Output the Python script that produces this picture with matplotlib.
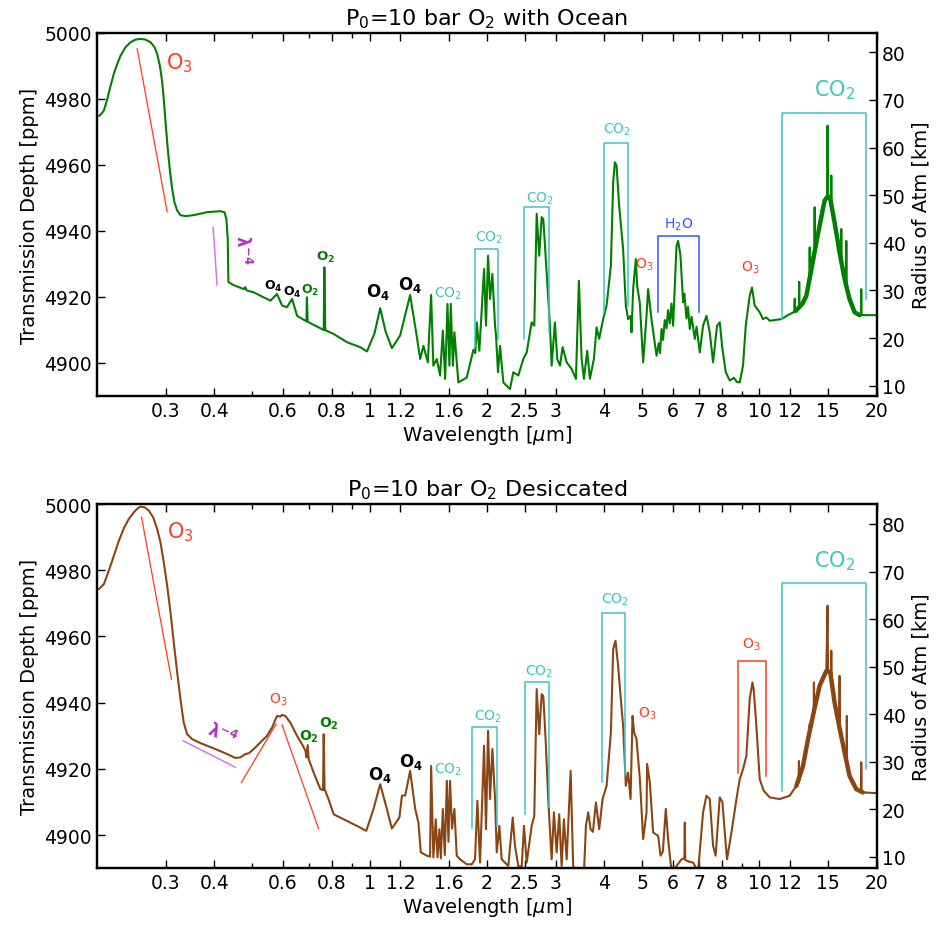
import numpy as np
import matplotlib
matplotlib.use('Agg')
import matplotlib.pyplot as plt
from matplotlib.ticker import FixedLocator, FixedFormatter, NullFormatter

plt.rcParams['font.family'] = 'DejaVu Sans'
plt.rcParams['mathtext.fontset'] = 'dejavusans'
plt.rcParams['xtick.direction'] = 'in'
plt.rcParams['ytick.direction'] = 'in'

# (wavelength [um], transit depth [ppm])
ocean_spec = [
    (0.2022, 4974.9), (0.2043, 4975.2), (0.2083, 4976.5), (0.2126, 4980.0), (0.2167, 4984.0),
    (0.2209, 4987.6), (0.2254, 4990.6), (0.2298, 4993.1), (0.2367, 4995.7), (0.2438, 4997.2),
    (0.2511, 4998.0), (0.2586, 4998.2), (0.2663, 4998.0), (0.2743, 4997.2), (0.2809, 4995.7),
    (0.2854, 4993.6), (0.2899, 4990.1), (0.2940, 4985.1), (0.2967, 4980.0), (0.3003, 4971.9),
    (0.3038, 4964.8), (0.3074, 4958.8), (0.3118, 4952.7), (0.3160, 4948.7), (0.3211, 4946.2),
    (0.3274, 4944.8), (0.3372, 4944.5), (0.3541, 4944.8), (0.3832, 4945.7), (0.4147, 4946.0),
    (0.4245, 4945.7), (0.4295, 4943.6), (0.4329, 4937.6), (0.4346, 4924.5), (0.448, 4923.6),
    (0.476, 4922.4), (0.480, 4923.0), (0.484, 4922.0), (0.505, 4921.4), (0.535, 4919.9),
    (0.557, 4918.9), (0.579, 4920.9), (0.597, 4917.4), (0.614, 4916.9), (0.633, 4919.4),
    (0.652, 4914.3), (0.684, 4912.8), (0.689, 4912.6), (0.691, 4919.9), (0.694, 4912.5),
    (0.755, 4910.3), (0.763, 4910.0), (0.766, 4929.0), (0.770, 4910.0), (0.775, 4909.8),
    (0.809, 4908.8), (0.875, 4906.3), (0.947, 4904.8), (0.985, 4903.5), (1.030, 4909.0),
    (1.065, 4916.6), (1.100, 4909.5), (1.141, 4904.5), (1.198, 4908.3), (1.227, 4913.3),
    (1.271, 4920.6), (1.317, 4909.3),
    (1.349, 4901.2), (1.375, 4905.2), (1.411, 4900.2), (1.439, 4920.6), (1.458, 4899.2),
    (1.488, 4901.2), (1.517, 4896.2), (1.542, 4909.8), (1.563, 4895.2), (1.585, 4917.9),
    (1.603, 4899.2), (1.616, 4917.9), (1.636, 4899.2), (1.651, 4909.3), (1.690, 4894.1),
    (1.776, 4895.6), (1.847, 4904.0), (1.868, 4903.0), (1.884, 4912.3), (1.913, 4903.7),
    (1.967, 4928.5), (1.990, 4911.3), (2.014, 4932.5), (2.038, 4919.4), (2.066, 4927.0),
    (2.099, 4911.3), (2.111, 4908.3), (2.136, 4897.2), (2.162, 4905.2), (2.204, 4894.1),
    (2.293, 4892.1), (2.338, 4897.2), (2.408, 4896.2), (2.480, 4901.2), (2.530, 4903.2),
    (2.606, 4912.3), (2.646, 4911.3), (2.684, 4945.2), (2.725, 4932.5), (2.764, 4944.2),
    (2.791, 4943.6), (2.847, 4927.5), (2.903, 4911.3), (2.932, 4899.2), (2.989, 4912.3),
    (3.031, 4901.2), (3.080, 4899.2), (3.129, 4904.8), (3.204, 4900.2), (3.299, 4898.2),
    (3.384, 4895.2), (3.444, 4924.9), (3.500, 4901.2), (3.548, 4895.2), (3.617, 4903.7),
    (3.675, 4895.2), (3.763, 4901.2), (3.823, 4910.8), (3.882, 4907.3), (3.975, 4913.3),
    (4.056, 4917.4), (4.160, 4929.5), (4.217, 4954.8), (4.259, 4960.8), (4.302, 4959.8),
    (4.368, 4947.7), (4.472, 4934.5), (4.544, 4917.4), (4.606, 4913.3), (4.673, 4914.3),
    (4.700, 4909.3), (4.745, 4922.4), (4.821, 4931.5), (4.859, 4923.4), (4.937, 4918.0),
    (5.033, 4900.2), (5.135, 4914.3), (5.183, 4922.4), (5.287, 4913.3), (5.447, 4902.2),
    (5.520, 4906.0), (5.560, 4903.0), (5.611, 4910.3), (5.660, 4907.0), (5.720, 4913.0),
    (5.779, 4910.5), (5.830, 4916.0), (5.892, 4912.0), (5.950, 4918.0), (6.008, 4911.3),
    (6.130, 4935.5), (6.188, 4937.0), (6.276, 4932.5), (6.373, 4918.4), (6.420, 4921.0),
    (6.501, 4913.5), (6.560, 4917.0), (6.630, 4910.3), (6.700, 4914.0), (6.828, 4907.3),
    (6.900, 4911.0), (7.032, 4903.2), (7.171, 4911.3), (7.316, 4914.3), (7.460, 4909.3),
    (7.607, 4900.2), (7.788, 4911.3), (7.913, 4912.3), (8.040, 4904.2), (8.199, 4897.2),
    (8.395, 4894.7), (8.600, 4895.5), (8.750, 4894.3), (8.904, 4894.1), (9.080, 4899.2),
    (9.226, 4911.3), (9.445, 4920.4), (9.573, 4922.9), (9.727, 4917.4), (10.02, 4915.4),
    (10.21, 4913.3), (10.42, 4913.8), (10.63, 4912.8), (11.38, 4913.3), (11.96, 4914.8),
    (12.30, 4915.5), (12.32, 4919.5), (12.34, 4915.6), (12.63, 4916.5), (12.65, 4924.6),
    (12.67, 4916.7), (13.20, 4920.4), (13.44, 4927.0), (13.46, 4935.0), (13.48, 4928.5),
    (13.84, 4934.5), (13.86, 4947.2), (13.88, 4935.8), (14.27, 4941.6), (14.70, 4949.2),
    (14.94, 4950.7), (14.96, 4971.9), (14.98, 4950.5), (15.20, 4949.7), (15.27, 4947.5),
    (15.29, 4956.8), (15.31, 4947.0), (15.59, 4942.6), (16.06, 4933.5), (16.20, 4931.5),
    (16.22, 4940.6), (16.24, 4931.0), (16.54, 4925.5), (16.69, 4923.5), (16.71, 4937.0),
    (16.73, 4923.0), (17.03, 4919.4), (17.54, 4915.4), (18.07, 4914.5), (18.23, 4914.5),
    (18.25, 4922.4), (18.27, 4914.5), (20.00, 4914.5),
]

# smooth envelope of the dense 15 um band (drawn heavier)
ocean_band = [
    (12.40, 4915.8), (12.90, 4918.0), (13.20, 4920.4), (13.60, 4928.5), (14.00, 4936.5),
    (14.27, 4941.6), (14.70, 4949.2), (15.00, 4950.6), (15.20, 4949.7), (15.59, 4942.6),
    (16.06, 4933.5), (16.54, 4925.5), (17.03, 4919.4), (17.54, 4915.4), (18.07, 4914.5),
]

dry_spec = [
    (0.2022, 4974.3), (0.2083, 4975.8), (0.2145, 4979.9), (0.2209, 4984.4), (0.2276, 4988.9),
    (0.2344, 4992.7), (0.2414, 4995.5), (0.2486, 4997.5), (0.2544, 4998.7), (0.2586, 4999.2),
    (0.2649, 4999.0), (0.2716, 4998.0), (0.2787, 4996.0), (0.2854, 4992.4), (0.2910, 4988.4),
    (0.2967, 4982.4), (0.3027, 4975.3), (0.3087, 4967.3), (0.3147, 4958.2), (0.3211, 4949.2),
    (0.3274, 4941.1), (0.3338, 4934.0), (0.3405, 4930.5), (0.3508, 4929.0), (0.3684, 4927.8),
    (0.3985, 4926.2), (0.4312, 4924.5), (0.4529, 4923.3), (0.4665, 4923.5), (0.4805, 4924.5),
    (0.4899, 4924.7), (0.5047, 4926.0), (0.5248, 4928.0), (0.5459, 4930.0), (0.5624, 4932.5),
    (0.5791, 4936.0), (0.5900, 4935.8), (0.5965, 4936.3), (0.6083, 4936.0), (0.6264, 4934.0),
    (0.6516, 4930.0), (0.6711, 4927.5), (0.685, 4925.5), (0.689, 4923.5), (0.694, 4927.2),
    (0.698, 4923.0), (0.719, 4918.9), (0.748, 4913.9), (0.760, 4913.6), (0.763, 4930.5),
    (0.767, 4913.6), (0.770, 4913.4), (0.785, 4910.9), (0.809, 4906.3), (0.875, 4904.3),
    (0.928, 4902.8), (0.981, 4901.3), (1.024, 4907.9), (1.065, 4915.4), (1.108, 4907.9),
    (1.141, 4902.0), (1.193, 4905.3), (1.211, 4911.9), (1.235, 4912.0), (1.271, 4919.4),
    (1.310, 4907.9), (1.335, 4903.8), (1.354, 4894.8), (1.403, 4893.8), (1.430, 4893.5),
    (1.439, 4920.9), (1.458, 4893.3), (1.479, 4904.8), (1.494, 4893.3), (1.511, 4901.8),
    (1.524, 4893.0), (1.542, 4907.9), (1.560, 4894.0), (1.579, 4916.4), (1.594, 4898.0),
    (1.609, 4916.4), (1.628, 4902.0), (1.651, 4907.9), (1.674, 4893.8), (1.707, 4892.7),
    (1.776, 4891.2), (1.829, 4891.2), (1.865, 4892.7), (1.891, 4910.4), (1.921, 4891.7),
    (1.967, 4927.0), (1.990, 4901.8), (2.014, 4931.5), (2.038, 4910.9), (2.066, 4926.0),
    (2.099, 4910.9), (2.120, 4894.8), (2.153, 4902.8), (2.183, 4892.7), (2.249, 4891.2),
    (2.270, 4890.7), (2.330, 4905.3), (2.361, 4896.8), (2.408, 4890.7), (2.457, 4890.5),
    (2.490, 4902.8), (2.530, 4891.7), (2.606, 4902.8), (2.646, 4905.8), (2.684, 4944.1),
    (2.725, 4930.5), (2.764, 4942.6), (2.791, 4942.0), (2.835, 4927.0), (2.873, 4910.9),
    (2.932, 4892.7), (2.972, 4906.9), (3.020, 4894.8), (3.066, 4906.3), (3.110, 4890.7),
    (3.152, 4904.8), (3.204, 4892.7), (3.280, 4919.4), (3.330, 4890.5), (3.398, 4889.0),
    (3.550, 4889.0), (3.590, 4902.8), (3.639, 4906.9), (3.691, 4901.8), (3.741, 4901.0),
    (3.808, 4909.9), (3.882, 4901.8), (3.961, 4910.9), (4.056, 4914.9), (4.160, 4931.0),
    (4.217, 4956.2), (4.276, 4958.7), (4.342, 4951.1), (4.404, 4942.1), (4.472, 4933.0),
    (4.544, 4914.9), (4.606, 4918.9), (4.673, 4910.9), (4.728, 4936.0), (4.772, 4931.0),
    (4.840, 4929.0), (4.937, 4916.9), (5.033, 4898.8), (5.135, 4906.9), (5.153, 4921.5),
    (5.236, 4915.9), (5.340, 4900.8), (5.500, 4899.8), (5.578, 4893.8), (5.654, 4895.0),
    (5.754, 4907.9), (5.833, 4898.8), (5.952, 4889.0), (6.130, 4890.7), (6.250, 4892.0),
    (6.313, 4892.7), (6.420, 4893.0), (6.438, 4903.8), (6.455, 4892.5), (6.600, 4892.0),
    (6.761, 4891.7), (6.961, 4889.0), (7.171, 4906.9), (7.316, 4911.9), (7.460, 4910.9),
    (7.607, 4896.8), (7.723, 4893.8), (7.913, 4911.4), (8.040, 4910.0), (8.150, 4900.8),
    (8.261, 4892.7), (8.479, 4900.8), (8.733, 4910.9), (8.904, 4916.9), (9.080, 4919.9),
    (9.262, 4924.0), (9.445, 4941.1), (9.596, 4946.1), (9.670, 4944.0), (9.824, 4933.0),
    (10.02, 4916.9), (10.26, 4913.4), (10.63, 4911.4), (11.27, 4910.9), (11.96, 4911.9),
    (12.44, 4914.9), (12.61, 4916.0), (12.63, 4922.4), (12.65, 4916.2), (12.94, 4920.9),
    (13.33, 4929.0), (13.44, 4931.0), (13.46, 4933.5), (13.48, 4931.5), (13.72, 4936.0),
    (13.78, 4937.0), (13.80, 4946.1), (13.82, 4937.5), (14.27, 4945.1), (14.85, 4949.6),
    (14.96, 4969.3), (15.00, 4949.5), (15.20, 4949.2), (15.27, 4947.0), (15.29, 4955.7),
    (15.31, 4946.5), (15.59, 4940.1), (16.04, 4932.5), (16.06, 4948.1), (16.08, 4932.0),
    (16.54, 4925.0), (16.74, 4922.5), (16.76, 4936.0), (16.78, 4922.0), (17.03, 4917.9),
    (17.72, 4913.9), (18.23, 4913.2), (18.25, 4922.0), (18.27, 4913.1), (18.42, 4912.9),
    (20.00, 4912.7),
]

dry_band = [
    (12.44, 4914.9), (12.94, 4920.9), (13.33, 4929.0), (13.72, 4936.0), (14.27, 4945.1),
    (14.85, 4949.6), (15.00, 4949.5), (15.20, 4949.2), (15.59, 4940.1), (16.06, 4932.3),
    (16.54, 4925.0), (17.03, 4917.9), (17.72, 4913.9), (18.42, 4912.9),
]

xtick_vals = [0.3, 0.4, 0.6, 0.8, 1, 1.2, 1.6, 2, 2.5, 3, 4, 5, 6, 7, 8, 10, 12, 15, 20]
xtick_text = ['0.3', '0.4', '0.6', '0.8', '1', '1.2', '1.6', '2', '2.5', '3',
              '4', '5', '6', '7', '8', '10', '12', '15', '20']
xtick_minor = [0.5, 0.7, 0.9, 9]

# band brackets: (left, right, top, left foot, right foot)
co2_ocean = [(1.868, 2.139, 4934.5, 4905.2, 4907.3),
             (2.495, 2.892, 4947.2, 4907.3, 4909.4),
             (4.000, 4.599, 4966.6, 4915.4, 4917.4),
             (11.45, 18.80, 4975.8, 4913.3, 4919.4)]
h2o_ocean = (5.50, 6.995, 4938.4, 4915.4, 4915.4)
co2_dry = [(1.829, 2.120, 4932.8, 4902.3, 4902.8),
           (2.505, 2.882, 4946.1, 4906.3, 4908.4),
           (3.937, 4.526, 4967.0, 4915.9, 4917.9),
           (11.45, 18.80, 4976.0, 4913.4, 4919.9)]
o3_dry = (8.815, 10.42, 4952.5, 4918.9, 4917.9)

GREEN = '#007f00'
BROWN = '#8b4513'
CYAN = '#3cc4c4'
RED = '#ff3a1f'
BLUE = '#3355ff'
MAG = '#b531c8'
MAGLINE = '#dd70ee'


def bracket(ax, b, color):
    x0, x1, top, f0, f1 = b
    ax.plot([x0, x0, x1, x1], [f0, top, top, f1], color=color, lw=1.1)


def setup(ax, title, km_lim):
    ax.set_xscale('log')
    ax.set_xlim(0.2, 20)
    ax.set_ylim(4890, 5000)
    ax.xaxis.set_major_locator(FixedLocator(xtick_vals))
    ax.xaxis.set_major_formatter(FixedFormatter(xtick_text))
    ax.xaxis.set_minor_locator(FixedLocator(xtick_minor))
    ax.xaxis.set_minor_formatter(NullFormatter())
    ax.set_yticks([4900, 4920, 4940, 4960, 4980, 5000])
    ax.tick_params(which='both', top=True, labelsize=13.5, width=1)
    ax.tick_params(which='major', length=6)
    ax.tick_params(which='minor', length=3.5)
    for s in ax.spines.values():
        s.set_linewidth(1.6)
    ax.set_xlabel(r'Wavelength [$\mu$m]', fontsize=14, labelpad=2)
    ax.set_ylabel('Transmission Depth [ppm]', fontsize=14)
    ax.set_title(title, fontsize=16, pad=6)
    rax = ax.twinx()
    rax.set_ylim(*km_lim)
    rax.set_yticks([10, 20, 30, 40, 50, 60, 70, 80])
    rax.tick_params(labelsize=13.5, length=6, width=1)
    rax.set_ylabel('Radius of Atm [km]', fontsize=14)
    for s in rax.spines.values():
        s.set_linewidth(1.6)
    return rax


fig = plt.figure(figsize=(9.39, 9.28), dpi=100)
ax1 = fig.add_axes([0.1033, 0.5722, 0.8304, 0.3912])
ax2 = fig.add_axes([0.1033, 0.0633, 0.8304, 0.3925])

# ---- with ocean ----
wl, td = np.array(ocean_spec).T
ax1.plot(wl, td, color=GREEN, lw=1.5)
bw, bd = np.array(ocean_band).T
ax1.plot(bw, bd, color=GREEN, lw=3.2, solid_capstyle='round')
setup(ax1, r'P$_0$=10 bar O$_2$ with Ocean', (7.84, 84.05))

ax1.plot([0.2536, 0.3027], [4995.2, 4945.8], color=RED, lw=0.9)
ax1.text(0.325, 4991, r'O$_3$', color=RED, fontsize=15, ha='center', va='center')
ax1.plot([0.3971, 0.4065], [4941.1, 4923.7], color=MAGLINE, lw=1.1)
ax1.text(0.47, 4934.5, r'$\mathbf{\lambda^{-4}}$', color=MAG, fontsize=12,
         rotation=-90, ha='center', va='center')

ax1.text(0.568, 4923.4, r'$\mathbf{O_4}$', fontsize=9, ha='center', va='center')
ax1.text(0.634, 4921.7, r'$\mathbf{O_4}$', fontsize=9, ha='center', va='center')
ax1.text(0.702, 4922.4, r'$\mathbf{O_2}$', color=GREEN, fontsize=9, ha='center', va='center')
ax1.text(0.770, 4932.2, r'$\mathbf{O_2}$', color=GREEN, fontsize=9.5, ha='center', va='center')
ax1.text(1.051, 4921.9, r'$\mathbf{O_4}$', fontsize=12, ha='center', va='center')
ax1.text(1.271, 4923.9, r'$\mathbf{O_4}$', fontsize=12, ha='center', va='center')
ax1.text(1.588, 4921.4, r'CO$_2$', color=CYAN, fontsize=10, ha='center', va='center')

for b, pos, fs in zip(co2_ocean, [(2.026, 4938.1), (2.737, 4950.2), (4.319, 4970.9),
                                  (15.59, 4983.0)], [10, 10, 10, 15]):
    bracket(ax1, b, CYAN)
    ax1.text(pos[0], pos[1], r'CO$_2$', color=CYAN, fontsize=fs, ha='center', va='center')
bracket(ax1, h2o_ocean, BLUE)
ax1.text(6.217, 4942.1, r'H$_2$O', color=BLUE, fontsize=10, ha='center', va='center')
ax1.text(5.053, 4930.0, r'O$_3$', color=RED, fontsize=10, ha='center', va='center')
ax1.text(9.50, 4929.0, r'O$_3$', color=RED, fontsize=10, ha='center', va='center')

# ---- desiccated ----
wl, td = np.array(dry_spec).T
ax2.plot(wl, td, color=BROWN, lw=1.5)
bw, bd = np.array(dry_band).T
ax2.plot(bw, bd, color=BROWN, lw=3.2, solid_capstyle='round')
setup(ax2, r'P$_0$=10 bar O$_2$ Desiccated', (7.56, 84.2))

ax2.plot([0.2602, 0.3104], [4996.0, 4947.1], color=RED, lw=0.9)
ax2.text(0.3274, 4991.9, r'O$_3$', color=RED, fontsize=15, ha='center', va='center')
ax2.plot([0.3326, 0.4529], [4928.5, 4920.5], color=MAGLINE, lw=1.1)
ax2.text(0.4187, 4930.5, r'$\mathbf{\lambda^{-4}}$', color=MAG, fontsize=12,
         rotation=-25, ha='center', va='center')
ax2.plot([0.4692, 0.5757], [4915.9, 4933.5], color=RED, lw=0.9)
ax2.plot([0.5965, 0.740], [4933.3, 4902.0], color=RED, lw=0.9)
ax2.text(0.5847, 4941.3, r'O$_3$', color=RED, fontsize=10, ha='center', va='center')

ax2.text(0.698, 4930.0, r'$\mathbf{O_2}$', color=GREEN, fontsize=10, ha='center', va='center')
ax2.text(0.785, 4934.0, r'$\mathbf{O_2}$', color=GREEN, fontsize=10, ha='center', va='center')
ax2.text(1.065, 4918.4, r'$\mathbf{O_4}$', fontsize=12, ha='center', va='center')
ax2.text(1.277, 4922.4, r'$\mathbf{O_4}$', fontsize=12, ha='center', va='center')
ax2.text(1.593, 4920.1, r'CO$_2$', color=CYAN, fontsize=10, ha='center', va='center')

for b, pos, fs in zip(co2_dry, [(2.018, 4936.0), (2.725, 4949.6), (4.260, 4971.3),
                               (15.59, 4982.9)], [10, 10, 10, 15]):
    bracket(ax2, b, CYAN)
    ax2.text(pos[0], pos[1], r'CO$_2$', color=CYAN, fontsize=fs, ha='center', va='center')
bracket(ax2, o3_dry, RED)
ax2.text(9.539, 4957.7, r'O$_3$', color=RED, fontsize=10, ha='center', va='center')
ax2.text(5.153, 4937.0, r'O$_3$', color=RED, fontsize=10, ha='center', va='center')

fig.savefig('out.png', dpi=100)
